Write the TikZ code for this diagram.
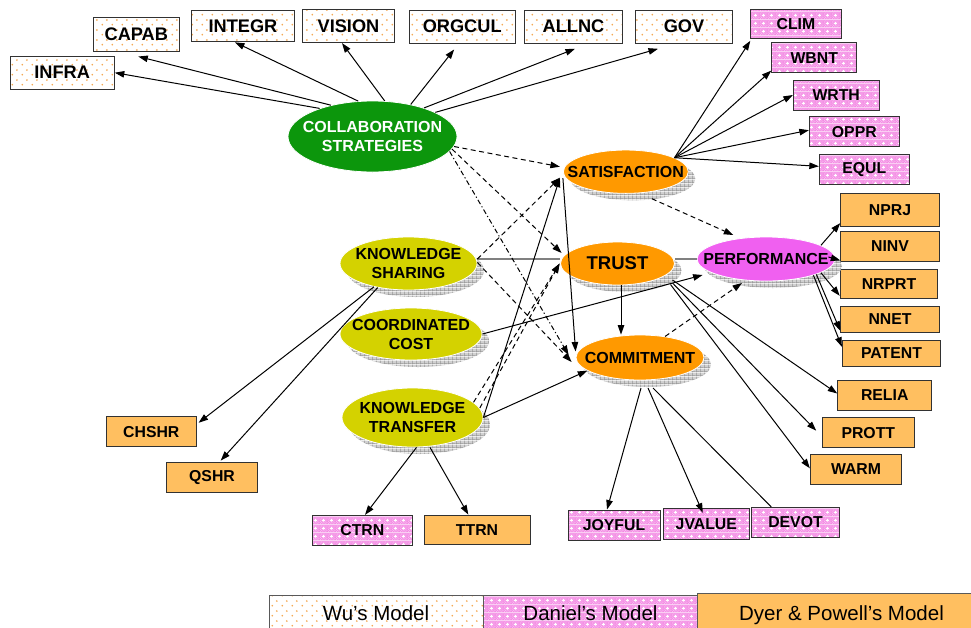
\documentclass[tikz,border=0pt]{standalone}
\usepackage{fontspec}
\setmainfont{Liberation Sans}
\usetikzlibrary{arrows.meta,shapes.geometric,shadows,patterns.meta}

% ---------- colours ----------
\definecolor{boxedge}{RGB}{50,50,50}
\definecolor{wudot}{RGB}{245,170,85}
\definecolor{danpink}{RGB}{242,132,224}
\definecolor{danlite}{RGB}{250,185,242}
\definecolor{dyerfill}{RGB}{255,191,96}
\definecolor{ovorange}{RGB}{255,153,0}
\definecolor{ovyellow}{RGB}{212,210,0}
\definecolor{ovmagenta}{RGB}{240,96,240}
\definecolor{ovgreen}{RGB}{12,150,12}
\definecolor{shlite}{RGB}{208,208,208}
\definecolor{shdark}{RGB}{150,150,150}

% ---------- fills ----------
% white ground with sparse orange dots (Wu's model)
\tikzdeclarepattern{
  name=wudots,
  type=colored,
  bounding box={(0pt,0pt) and (10pt,10pt)},
  tile size={(10pt,10pt)},
  code={
    \fill[white] (0pt,0pt) rectangle (10pt,10pt);
    \fill[wudot] (2.5pt,2.5pt) circle (1pt);
    \fill[wudot] (7.5pt,7.5pt) circle (1pt);
  }
}
% pink check with small white crosses (Daniel's model)
\tikzdeclarepattern{
  name=danchk,
  type=colored,
  bounding box={(0pt,0pt) and (8pt,8pt)},
  tile size={(8pt,8pt)},
  code={
    \fill[danpink] (0pt,0pt) rectangle (8pt,8pt);
    \foreach \i in {0,2,4,6}{\foreach \j in {0,2,4,6}{
      \fill[danlite] (\i pt,\j pt) rectangle ++(1pt,1pt);
      \fill[danlite] (\i pt+1pt,\j pt+1pt) rectangle ++(1pt,1pt);}}
    \fill[white] (3.5pt,2.5pt) rectangle (4.5pt,5.5pt);
    \fill[white] (2.5pt,3.5pt) rectangle (5.5pt,4.5pt);
  }
}
% grey grid used for the ellipse shadows
\tikzdeclarepattern{
  name=shgrid,
  type=colored,
  bounding box={(0pt,0pt) and (4pt,4pt)},
  tile size={(4pt,4pt)},
  code={
    \fill[shlite] (0pt,0pt) rectangle (4pt,4pt);
    \fill[shdark] (0pt,0pt) rectangle (4pt,0.7pt);
    \fill[shdark] (0pt,0pt) rectangle (0.7pt,4pt);
  }
}

\tikzset{
  sz/.style 2 args={minimum width=#1pt, minimum height=#2pt},
  wubox/.style={draw=boxedge, line width=0.9pt, pattern=wudots, inner sep=0pt,
    font=\bfseries\fontsize{18.2}{21}\selectfont},
  danbox/.style={draw=boxedge, line width=0.9pt, pattern=danchk, inner sep=0pt,
    font=\bfseries\fontsize{15.8}{19}\selectfont},
  dybox/.style={draw=boxedge, line width=0.9pt, fill=dyerfill, inner sep=0pt,
    font=\bfseries\fontsize{15.8}{19}\selectfont},
  oval/.style={ellipse, draw=white, line width=0.8pt, inner xsep=-40pt, inner ysep=-10pt,
    align=center, font=\bfseries\fontsize{16}{19}\selectfont},
  shadowed/.style={drop shadow={shadow xshift=7pt, shadow yshift=-7pt, opacity=1,
    pattern=shgrid, draw=none}},
  arr/.style={-{Triangle[length=9.5pt,width=6.5pt]}, line width=1pt},
  solidline/.style={line width=1pt},
  dsh/.style={arr, dash pattern=on 5pt off 3.5pt},
  dshdot/.style={arr, dash pattern=on 5pt off 2.5pt on 1.2pt off 2.5pt},
  grayline/.style={line width=1.8pt, draw=gray},
  legbox/.style={draw=gray!70!black, line width=0.8pt, anchor=north, minimum height=50pt},
  legtext/.style={anchor=base, font=\fontsize{20.5}{24}\selectfont},
}

\begin{document}
\begin{tikzpicture}[x=1pt,y=-1pt]
\useasboundingbox (0,0) rectangle (971,627);
\clip (0,0) rectangle (971,627);
\fill[white] (0,0) rectangle (971,627);

% ---------- Wu's model indicators ----------
\node[wubox, sz={104.3}{33.3}] (infra)  at (62.2,72.7) {INFRA};
\node[wubox, sz={86}{33.7}]    (capab)  at (136.3,34.2) {CAPAB};
\node[wubox, sz={102.6}{31.7}] (integr) at (243,26) {INTEGR};
\node[wubox, sz={91.6}{33.3}]  (vision) at (348.5,26) {VISION};
\node[wubox, sz={105.7}{33}]   (orgcul) at (462.2,26.5) {ORGCUL};
\node[wubox, sz={98.4}{33.3}]  (allnc)  at (573.5,26.7) {ALLNC};
\node[wubox, sz={96.6}{33.3}]  (gov)    at (684,26.7) {GOV};

% ---------- Daniel's model indicators ----------
\node[danbox, sz={90.3}{29.3}] (clim)   at (795.9,23.7) {CLIM};
\node[danbox, sz={85}{30}]     (wbnt)   at (814.2,57.7) {WBNT};
\node[danbox, sz={85.7}{30}]   (wrth)   at (836.2,95) {WRTH};
\node[danbox, sz={90}{30}]     (oppr)   at (854.3,131.7) {OPPR};
\node[danbox, sz={90}{30}]     (equl)   at (864.3,169.3) {EQUL};
\node[danbox, sz={100}{30.4}]  (ctrn)   at (362.3,530.5) {CTRN};
\node[danbox, sz={92}{30}]     (joyful) at (614,525) {JOYFUL};
\node[danbox, sz={86}{30.3}]   (jvalue) at (706.3,523.8) {JVALUE};
\node[danbox, sz={87.6}{30}]   (devot)  at (795.5,522.3) {DEVOT};

% ---------- Dyer & Powell's model indicators ----------
\node[dybox, sz={98.6}{33.3}] (nprj)   at (890,210) {NPRJ};
\node[dybox, sz={98.6}{30}]   (ninv)   at (890,246) {NINV};
\node[dybox, sz={97.7}{29.3}] (nrprt)  at (889,283.7) {NRPRT};
\node[dybox, sz={98.6}{26.3}] (nnet)   at (890,319.2) {NNET};
\node[dybox, sz={98.4}{26.7}] (patent) at (891.5,353.3) {PATENT};
\node[dybox, sz={94}{30}]     (relia)  at (884.7,395) {RELIA};
\node[dybox, sz={91.3}{30}]   (prott)  at (868.3,432.7) {PROTT};
\node[dybox, sz={91.4}{30}]   (warm)   at (856,469.3) {WARM};
\node[dybox, sz={90.7}{30}]   (chshr)  at (151.3,431.7) {CHSHR};
\node[dybox, sz={91.4}{30.3}] (qshr)   at (212,477.2) {QSHR};
\node[dybox, sz={106}{29.3}]  (ttrn)   at (477,529.7) {TTRN};

% ---------- constructs ----------
\node[oval, fill=ovgreen, text=white, sz={169}{71}] (collab) at (372.5,136.5) {COLLABORATION\\STRATEGIES};
\node[oval, shadowed, fill=ovorange, sz={125}{43.3}] (sat) at (625.8,171.7) {SATISFACTION};
\node[oval, shadowed, fill=ovorange, sz={114}{43}, font=\bfseries\fontsize{18.5}{21}\selectfont] (trust) at (617.5,263.5) {TRUST};
\node[oval, shadowed, fill=ovorange, sz={128}{45}] (cmt) at (640,357.5) {COMMITMENT};
\node[oval, shadowed, fill=ovmagenta, sz={138}{44}] (perf) at (766,259) {PERFORMANCE};
\node[oval, shadowed, fill=ovyellow, sz={137}{53}] (ks) at (408.5,263.5) {KNOWLEDGE\\SHARING};
\node[oval, shadowed, fill=ovyellow, sz={142}{52}] (cc) at (411,334) {COORDINATED\\COST};
\node[oval, shadowed, fill=ovyellow, sz={141}{59}] (kt) at (412.5,417.5) {KNOWLEDGE\\TRANSFER};

% ---------- collaboration strategies -> indicators ----------
\draw[arr] (collab.152) -- (infra.east);
\draw[arr] (collab.143) -- ([shift={(2pt,-5pt)}]capab.south);
\draw[arr] (collab.112) -- ([xshift=-8pt]integr.south);
\draw[arr] (collab.71) -- ([xshift=-6.5pt]vision.south);
\draw[arr] (collab.40) -- ([shift={(-8pt,-6pt)}]orgcul.south);
\draw[arr] (collab.29) -- ([shift={(1.5pt,-5pt)}]allnc.south);
\draw[arr] (collab.21) -- ([shift={(-26pt,-5pt)}]gov.south);

% ---------- satisfaction -> indicators ----------
\coordinate (satout) at (sat.16);
\draw[arr] (satout) -- ([yshift=-2pt]clim.south west);
\draw[arr] (satout) -- ([yshift=2.5pt]wbnt.south west);
\draw[arr] (satout) -- (wrth.west);
\draw[arr] (satout) -- ([yshift=1.5pt]oppr.west);
\draw[arr] (satout) -- ([yshift=3pt]equl.west);

% ---------- performance -> indicators ----------
\draw[arr] (perf.14) -- ([yshift=4pt]nprj.south west);
\draw[arr] ([shift={(-7pt,2pt)}]perf.east) -- ([yshift=1pt]ninv.south west);
\draw[arr] (perf.-14) -- ([yshift=3pt]nrprt.south west);
\draw[arr] (perf.-17) -- ([yshift=2pt]nnet.south west);
\draw[arr] (perf.-19) -- ([yshift=6.5pt]patent.west);

% ---------- trust -> indicators ----------
\draw[arr] ([shift={(55pt,-16.5pt)}]trust.center) -- ([yshift=1.5pt]relia.west);
\draw[arr] ([shift={(55pt,-19.5pt)}]trust.center) -- ([shift={(-6pt,2pt)}]prott.west);
\draw[arr] ([shift={(53pt,-21pt)}]trust.center) -- ([yshift=1pt]warm.west);
\coordinate (tdrop) at ([xshift=3.5pt]trust.south);
\draw[arr] (tdrop) -- (tdrop |- cmt.north);

% ---------- links without arrowheads ----------
\coordinate (kslink) at ([yshift=4.5pt]ks.east);
\draw[grayline] (kslink) -- (kslink -| trust.west);
\draw[grayline] (trust.east |- perf.west) -- (perf.west);

% ---------- paths between constructs ----------
\draw[dsh] (collab.-7) -- ([shift={(-3pt,5pt)}]sat.west);
\draw[dsh] (collab.-9) -- ([shift={(1.5pt,10.5pt)}]trust.west);
\draw[dshdot] (collab.-11) -- ([shift={(-7pt,2.5pt)}]cmt.west);
\draw[dsh] (kslink) -- ([shift={(-3pt,-6pt)}]sat.west);
\draw[dsh] ([yshift=1pt]ks.east) -- ([shift={(-4pt,-4.5pt)}]cmt.west);
\draw[arr] (kt.east) -- ([shift={(-3pt,-6pt)}]sat.west);
\draw[dsh] (kt.8) -- ([xshift=-0.5pt]trust.west);
\draw[dsh] (kt.14) -- ([xshift=-0.5pt]trust.west);
\draw[arr] (kt.east) -- (cmt.194);
\draw[arr] (cc.east) -- ([shift={(6pt,-16pt)}]perf.west);
\draw[arr] ([yshift=-6.5pt]sat.west) -- ([yshift=6pt]cmt.west);
\draw[dsh] ([shift={(26pt,-27pt)}]sat.center) -- ([shift={(-32.7pt,24pt)}]perf.center);
\draw[dsh] (cmt.40) -- ([shift={(-24pt,-24pt)}]perf.center);

% ---------- knowledge constructs -> indicators ----------
\draw[arr] (ks.214) -- ([shift={(1.5pt,-6.5pt)}]chshr.north east);
\draw[arr] (ks.218) -- ([shift={(8.7pt,1pt)}]qshr.north);
\draw[arr] ([xshift=4pt]kt.south) -- ([xshift=2.7pt]ctrn.north);
\draw[arr] ([xshift=17.5pt]kt.south) -- ([xshift=-8.7pt]ttrn.north);

% ---------- commitment -> indicators ----------
\draw[arr] ([shift={(1pt,-30.5pt)}]cmt.center) -- ([xshift=-7pt]joyful.north);
\draw[arr] ([shift={(8pt,-30.5pt)}]cmt.center) -- ([shift={(-3.5pt,-4.5pt)}]jvalue.north);
\draw[solidline] ([shift={(13pt,-30.5pt)}]cmt.center) -- ([xshift=20pt]devot.north west);

% ---------- legend ----------
\node[legbox, pattern=wudots, minimum width=214pt] (legwu) at (376,595) {};
\node[legbox, pattern=danchk, minimum width=214pt] (legdan) at (590.5,595) {};
\node[legbox, fill=dyerfill, minimum width=275pt] (legdy) at (835,592.5) {};
\node[legtext] (legwutxt) at (376,620) {Wu’s Model};
\node[legtext] (legdantxt) at (590.5,620) {Daniel’s Model};
\node[legtext] (legdytxt) at (841.5,620) {Dyer \& Powell’s Model};
\end{tikzpicture}
\end{document}
